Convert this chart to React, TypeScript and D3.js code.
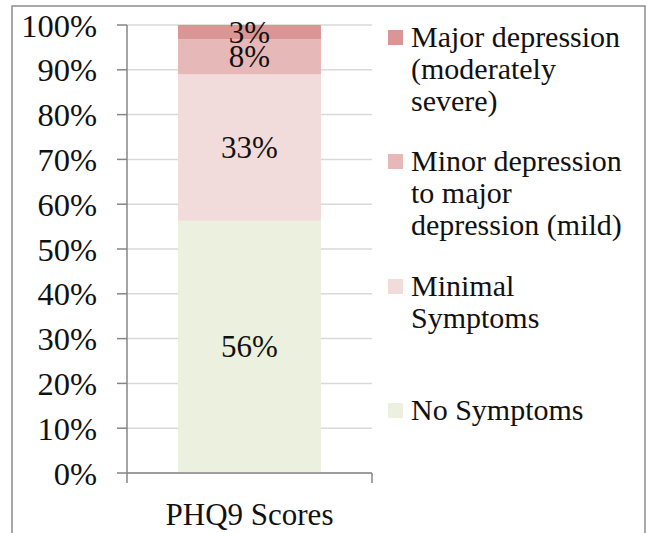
import React from "react";
import * as d3 from "d3";

const categories = ["PHQ9 Scores"];
const seriesNames = [
  "No Symptoms",
  "Minimal Symptoms",
  "Minor depression to major depression (mild)",
  "Major depression (moderately severe)",
];
const seriesValues = [56.3, 32.7, 7.8, 3.2];
const seriesLabels = ["56%", "33%", "8%", "3%"];
const seriesColors = ["#ebf1de", "#f2dcdb", "#e6b9b8", "#d99694"];
const legendLines = [
  ["Major depression", "(moderately", "severe)"],
  ["Minor depression", "to major", "depression (mild)"],
  ["Minimal", "Symptoms"],
  ["No Symptoms"],
];
const legendColors = ["#d99694", "#e6b9b8", "#f2dcdb", "#ebf1de"];
const yTicks = [0, 10, 20, 30, 40, 50, 60, 70, 80, 90, 100];

const W = 647;
const H = 533;
const FONT = "'Liberation Serif', serif";

export default function App() {
  const left = 127;
  const right = 372;
  const top = 25;
  const bottom = 473;
  const y = d3.scaleLinear().domain([0, 100]).range([bottom, top]);
  const x = d3.scaleBand().domain(categories).range([left, right]).padding(0.263);

  const stacked: { y0: number; y1: number; i: number }[] = [];
  let acc = 0;
  seriesValues.forEach((v, i) => {
    stacked.push({ y0: acc, y1: acc + v, i });
    acc += v;
  });

  const legendBaselines = [47, 171, 296, 420];

  return (
    <svg
      width={W}
      height={H}
      style={{ position: "absolute", left: 0, top: 0, background: "#fff" }}
      fontFamily={FONT}
    >
      <rect x={12} y={6} width={633} height={560} fill="#fff" stroke="#8c8c8c" strokeWidth={1.5} />
      {yTicks.map((t) => (
        <line key={"g" + t} x1={left} x2={right} y1={y(t)} y2={y(t)} stroke="#d9d9d9" strokeWidth={1.5} />
      ))}
      {categories.map((c) =>
        stacked.map((s) => (
          <rect
            key={c + s.i}
            x={x(c)!}
            width={x.bandwidth()}
            y={y(s.y1)}
            height={y(s.y0) - y(s.y1)}
            fill={seriesColors[s.i]}
          />
        ))
      )}
      {categories.map((c) =>
        stacked.map((s) => (
          <text
            key={"l" + c + s.i}
            x={x(c)! + x.bandwidth() / 2}
            y={(y(s.y0) + y(s.y1)) / 2 + 10.5}
            textAnchor="middle"
            fontSize={31}
            fill="#111"
          >
            {seriesLabels[s.i]}
          </text>
        ))
      )}
      <line x1={left} x2={left} y1={top} y2={bottom} stroke="#868686" strokeWidth={1.5} />
      {yTicks.map((t) => (
        <g key={"t" + t}>
          <line x1={left - 10} x2={left} y1={y(t)} y2={y(t)} stroke="#868686" strokeWidth={1.5} />
          <text x={97} y={y(t) + 11.5} textAnchor="end" fontSize={32.5} fill="#111">
            {t}%
          </text>
        </g>
      ))}
      <line x1={left} x2={right} y1={bottom} y2={bottom} stroke="#868686" strokeWidth={1.5} />
      <line x1={left} x2={left} y1={bottom} y2={bottom + 10} stroke="#868686" strokeWidth={1.5} />
      <line x1={right} x2={right} y1={bottom} y2={bottom + 10} stroke="#868686" strokeWidth={1.5} />
      {categories.map((c) => (
        <text key={"c" + c} x={x(c)! + x.bandwidth() / 2} y={525} textAnchor="middle" fontSize={31} fill="#111">
          {c}
        </text>
      ))}
      {legendLines.map((lines, i) => (
        <g key={"lg" + i}>
          <rect x={388} y={legendBaselines[i] - 17} width={15} height={15} fill={legendColors[i]} />
          {lines.map((ln, j) => (
            <text key={j} x={411} y={legendBaselines[i] + j * 32} fontSize={30} fill="#111">
              {ln}
            </text>
          ))}
        </g>
      ))}
    </svg>
  );
}
